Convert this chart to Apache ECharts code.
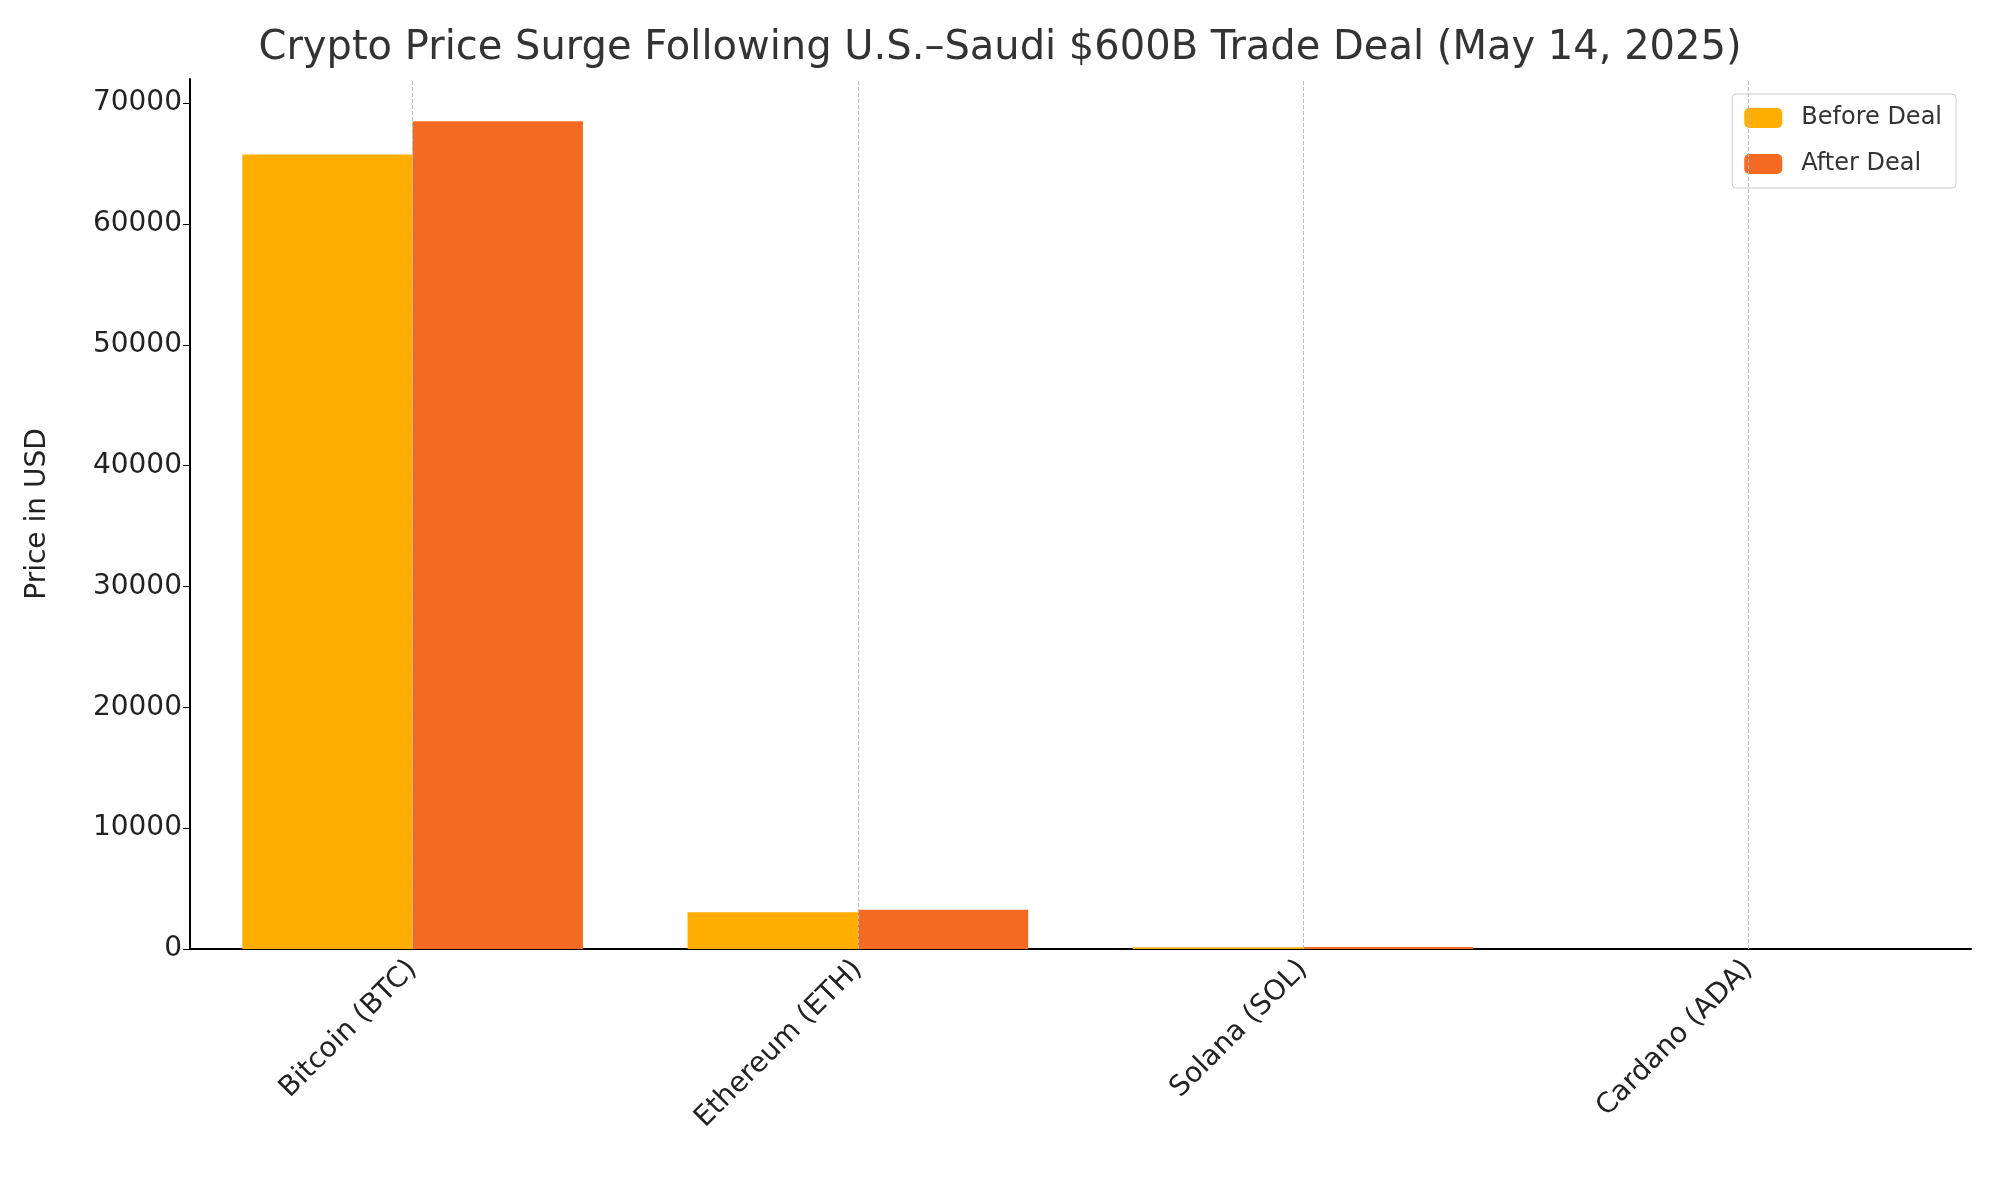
<!DOCTYPE html>
<html><head><meta charset="utf-8">
<script src="https://cdn.jsdelivr.net/npm/echarts@6/dist/echarts.min.js"></script>
<style>html,body{margin:0;background:#fff}#c{width:2000px;height:1200px}</style>
</head><body><div id="c"></div>
<script>
var coins = ['Bitcoin (BTC)', 'Ethereum (ETH)', 'Solana (SOL)', 'Cardano (ADA)'];
var beforeDeal = [65750, 3050, 150, 0.75];
var afterDeal = [68500, 3250, 170, 0.8];
var font = 'DejaVu Sans';

var chart = echarts.init(document.getElementById('c'));
chart.setOption({
    animation: false,
    textStyle: { fontFamily: font },
    title: {
        text: 'Crypto Price Surge Following U.S.–Saudi $600B Trade Deal (May 14, 2025)',
        left: 'center', top: 24,
        textStyle: { fontFamily: font, fontWeight: 'normal', fontSize: 40, color: '#333' }
    },
    legend: {
        data: ['Before Deal', 'After Deal'],
        top: 94, right: 44, orient: 'vertical',
        itemWidth: 38, itemHeight: 20, itemGap: 22,
        padding: [12, 14, 12, 12],
        borderColor: '#ccc', borderWidth: 1, borderRadius: 4,
        textStyle: { fontSize: 24, color: '#333', padding: [0, 0, 0, 14] }
    },
    grid: { left: 190, right: 29, top: 79, bottom: 251 },
    xAxis: {
        type: 'category', data: coins,
        axisLine: { lineStyle: { color: '#000', width: 2 } },
        axisTick: { alignWithLabel: true, length: 7, lineStyle: { color: '#000' } },
        axisLabel: { rotate: 45, fontSize: 28, color: '#222', margin: 16 },
        splitLine: { show: false }
    },
    yAxis: {
        type: 'value', min: 0, max: 72000, interval: 10000,
        name: 'Price in USD', nameLocation: 'middle', nameGap: 138,
        nameTextStyle: { fontSize: 28, color: '#222' },
        axisLine: { show: true, lineStyle: { color: '#000', width: 2 } },
        axisTick: { show: true, length: 7, lineStyle: { color: '#000' } },
        axisLabel: { fontSize: 28, color: '#222', showMaxLabel: false, formatter: function (v) { return String(v); } },
        splitLine: { show: false }
    },
    series: [
        {
            name: 'Before Deal', type: 'bar', data: beforeDeal,
            barGap: '0%', barCategoryGap: '23.5%',
            itemStyle: { color: '#FFAE00' }
        },
        {
            name: 'After Deal', type: 'bar', data: afterDeal,
            itemStyle: { color: '#F56A23' }
        },
        {
            name: 'grid', type: 'line', data: [], symbol: 'none', z: 5,
            markLine: {
                silent: true, symbol: 'none', label: { show: false },
                lineStyle: { color: '#bbb', type: 'dashed', width: 1 },
                data: coins.map(function (c) { return { xAxis: c }; })
            }
        }
    ]
});
</script></body></html>
